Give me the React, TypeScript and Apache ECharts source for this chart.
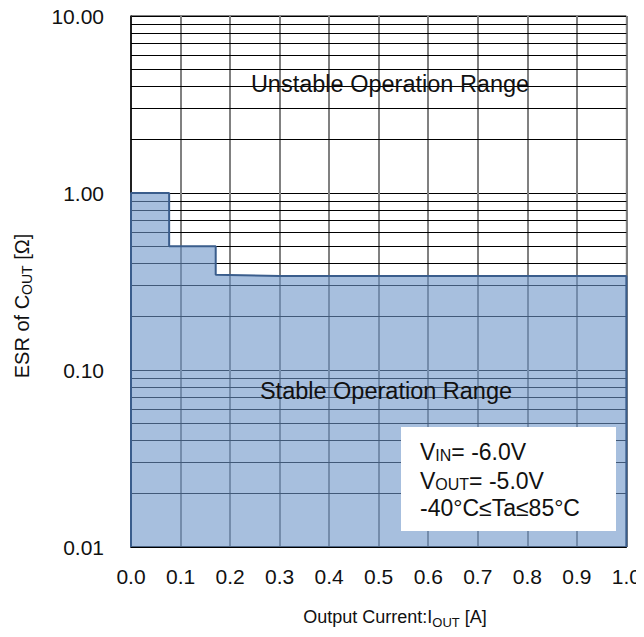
import React, { useEffect, useRef } from "react";
import * as echarts from "echarts";

const FONT = "'Liberation Sans', Arial, sans-serif";

// Boundary of the stable region (Output current [A], ESR [Ω])
const boundaryCurrent = [0, 0, 0.077, 0.077, 0.171, 0.171, 0.3, 1.0, 1.0];
const boundaryEsr = [0.01, 1.0, 1.0, 0.5, 0.5, 0.345, 0.34, 0.34, 0.01];

// Minor logarithmic grid lines
const minorGridValues = [
  0.02, 0.03, 0.04, 0.05, 0.06, 0.07, 0.08, 0.09,
  0.2, 0.3, 0.4, 0.5, 0.6, 0.7, 0.8, 0.9,
  2, 3, 4, 5, 6, 7, 8, 9,
];

const xTicks = [0, 0.1, 0.2, 0.3, 0.4, 0.5, 0.6, 0.7, 0.8, 0.9, 1.0];
const yTicks = [0.01, 0.1, 1, 10];

const conditionLines = [
  "{a|V}{s|IN}{a|= -6.0V}",
  "{a|V}{s|OUT}{a|= -5.0V}",
  "{a|-40°C≤Ta≤85°C}",
];

export default function App() {
  const ref = useRef<HTMLDivElement>(null);

  useEffect(() => {
    if (!ref.current) return;
    const chart = echarts.init(ref.current, undefined, { renderer: "svg" });
    const data = boundaryCurrent.map((x, i) => [x, boundaryEsr[i]]);

    chart.setOption({
      animation: false,
      backgroundColor: "#ffffff",
      grid: {
        left: 131,
        right: 16,
        top: 16,
        bottom: 90,
        show: true,
        borderColor: "#000",
        borderWidth: 1,
        backgroundColor: "transparent",
      },
      xAxis: {
        type: "value",
        min: xTicks[0],
        max: xTicks[xTicks.length - 1],
        interval: 0.1,
        axisLine: { show: true, lineStyle: { color: "#000", width: 1.5 } },
        axisTick: { show: false },
        splitLine: { show: true, lineStyle: { color: "#808080", width: 2 } },
        axisLabel: {
          formatter: (v: number) => v.toFixed(1),
          fontFamily: FONT,
          fontSize: 21,
          color: "#111",
          margin: 19,
        },
      },
      yAxis: {
        type: "log",
        logBase: 10,
        min: yTicks[0],
        max: yTicks[yTicks.length - 1],
        axisLine: { show: true, lineStyle: { color: "#000", width: 1.5 } },
        axisTick: { show: false },
        minorTick: { show: false },
        splitLine: { show: true, lineStyle: { color: "#000", width: 1 } },
        axisLabel: {
          formatter: (v: number) => v.toFixed(2),
          fontFamily: FONT,
          fontSize: 21,
          color: "#111",
          margin: 27,
        },
      },
      series: [
        {
          type: "line",
          z: 1,
          data: [],
          silent: true,
          markLine: {
            z: 1,
            silent: true,
            symbol: ["none", "none"],
            label: { show: false },
            lineStyle: { color: "#000", width: 1, type: "solid" },
            data: minorGridValues.map((v) => ({ yAxis: v })),
          },
        },
        {
          type: "line",
          z: 3,
          data,
          symbol: "none",
          silent: true,
          lineStyle: { color: "#3a5d8c", width: 2 },
          areaStyle: { color: "rgb(108,148,200)", opacity: 0.6, origin: "start" },
        },
      ],
      graphic: [
        {
          type: "text",
          x: 390,
          y: 84,
          z: 10,
          style: {
            text: "Unstable Operation Range",
            fontFamily: FONT,
            fontSize: 23.5,
            fill: "#111",
            align: "center",
            verticalAlign: "middle",
          },
        },
        {
          type: "text",
          x: 386,
          y: 391,
          z: 10,
          style: {
            text: "Stable Operation Range",
            fontFamily: FONT,
            fontSize: 23.5,
            fill: "#111",
            align: "center",
            verticalAlign: "middle",
          },
        },
        {
          type: "rect",
          z: 10,
          shape: { x: 401, y: 427, width: 215, height: 104 },
          style: { fill: "#ffffff" },
        },
        ...conditionLines.map((t, i) => ({
          type: "text",
          x: 420,
          y: [452, 481, 508][i],
          z: 11,
          style: {
            text: t,
            fill: "#111",
            align: "left",
            verticalAlign: "middle",
            rich: {
              a: { fontFamily: FONT, fontSize: 23, fill: "#111", lineHeight: 26 },
              s: {
                fontFamily: FONT,
                fontSize: 16,
                fill: "#111",
                lineHeight: 26,
                verticalAlign: "bottom",
                padding: [0, 0, 2, 0],
              },
            },
          },
        })),
        {
          type: "text",
          x: 395,
          y: 617,
          z: 10,
          style: {
            text: "{a|Output Current:I}{s|OUT}{a| [A]}",
            align: "center",
            verticalAlign: "middle",
            rich: {
              a: { fontFamily: FONT, fontSize: 18, fill: "#111", lineHeight: 24 },
              s: {
                fontFamily: FONT,
                fontSize: 13,
                fill: "#111",
                lineHeight: 13,
                verticalAlign: "bottom",
              },
            },
          },
        },
        {
          type: "text",
          x: 22,
          y: 306,
          rotation: Math.PI / 2,
          z: 10,
          style: {
            text: "{a|ESR of C}{s|OUT}{a| [Ω]}",
            align: "center",
            verticalAlign: "middle",
            rich: {
              a: { fontFamily: FONT, fontSize: 20, fill: "#111", lineHeight: 24 },
              s: {
                fontFamily: FONT,
                fontSize: 14,
                fill: "#111",
                lineHeight: 14,
                verticalAlign: "bottom",
              },
            },
          },
        },
      ],
    });

    return () => chart.dispose();
  }, []);

  return <div ref={ref} style={{ width: 644, height: 637, margin: -8 }} />;
}
